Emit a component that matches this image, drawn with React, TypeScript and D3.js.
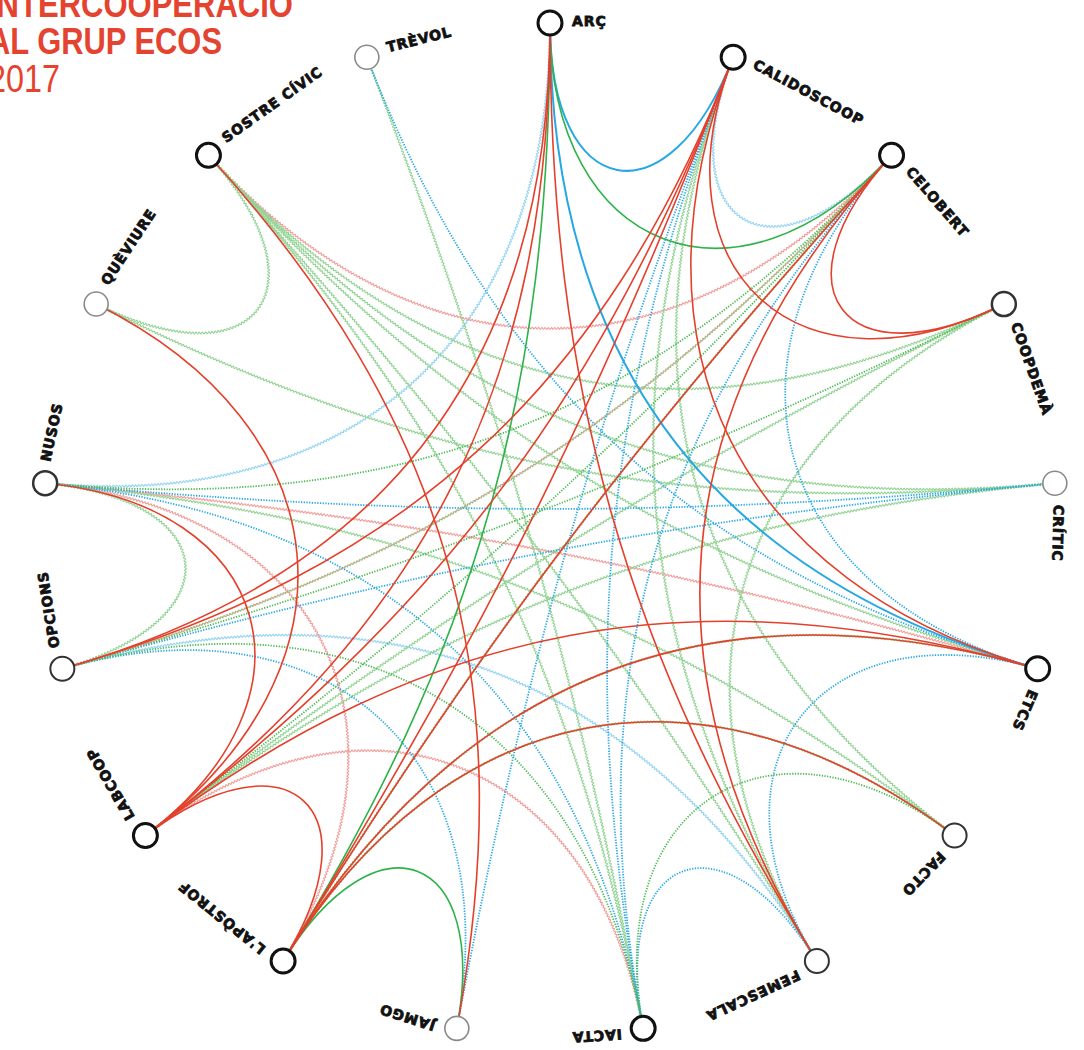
import { useEffect, useRef } from "react"
import * as d3 from "d3"

// nodes clockwise, starting at the top
const nodeNames = [
  "ARÇ", "CALIDOSCOOP", "CELOBERT", "COOPDEMÀ", "CRÍTIC", "ETCS", "FACTO", "FEMESCALA",
  "IACTA", "JAMGO", "L'APÒSTROF", "LABCOOP", "OPCIONS", "NUSOS", "QUÈVIURE", "SOSTRE CÍVIC", "TRÈVOL",
]
// ring strength: 3 strong, 2 medium, 1 weak
const nodeRing = [3, 3, 3, 2.5, 1, 3, 2, 2, 3, 1, 3, 3, 2, 2.5, 1, 3, 1]

const titleLines = ["INTERCOOPERACIÓ", "AL GRUP ECOS", "2017"]

// [from, to, kind] kind = colour (r/g/b) + stroke (s solid, d dotted, w weak)
const linksWeak: [string, string, string][] = [
  ["CALIDOSCOOP", "CELOBERT", "bw"],
  ["ARÇ", "NUSOS", "bw"],
  ["OPCIONS", "FEMESCALA", "bw"],
  ["SOSTRE CÍVIC", "CELOBERT", "rw"],
  ["NUSOS", "ETCS", "rw"],
  ["NUSOS", "L'APÒSTROF", "rw"],
  ["LABCOOP", "IACTA", "rw"],
  ["QUÈVIURE", "SOSTRE CÍVIC", "gw"],
  ["NUSOS", "OPCIONS", "gw"],
  ["TRÈVOL", "IACTA", "gw"],
  ["SOSTRE CÍVIC", "COOPDEMÀ", "gw"],
  ["SOSTRE CÍVIC", "CRÍTIC", "gw"],
  ["SOSTRE CÍVIC", "IACTA", "gw"],
  ["SOSTRE CÍVIC", "FEMESCALA", "gw"],
  ["SOSTRE CÍVIC", "ETCS", "gw"],
  ["COOPDEMÀ", "FEMESCALA", "gw"],
  ["COOPDEMÀ", "LABCOOP", "gw"],
  ["CRÍTIC", "QUÈVIURE", "gw"],
  ["CRÍTIC", "LABCOOP", "gw"],
  ["CALIDOSCOOP", "FEMESCALA", "gw"],
  ["CALIDOSCOOP", "FACTO", "gw"],
  ["FACTO", "L'APÒSTROF", "gw"],
  ["ETCS", "L'APÒSTROF", "gw"],
  ["NUSOS", "FACTO", "gw"],
  ["CELOBERT", "L'APÒSTROF", "gw"],
  ["CELOBERT", "OPCIONS", "gw"],
]

const linksDotted: [string, string, string][] = [
  ["CALIDOSCOOP", "JAMGO", "bd"],
  ["CALIDOSCOOP", "IACTA", "bd"],
  ["CELOBERT", "ETCS", "bd"],
  ["CELOBERT", "IACTA", "bd"],
  ["FEMESCALA", "ETCS", "bd"],
  ["IACTA", "FEMESCALA", "bd"],
  ["TRÈVOL", "ETCS", "bd"],
  ["NUSOS", "CRÍTIC", "bd"],
  ["NUSOS", "IACTA", "bd"],
  ["OPCIONS", "JAMGO", "bd"],
  ["OPCIONS", "CRÍTIC", "bd"],
  ["IACTA", "FACTO", "gd"],
  ["NUSOS", "CELOBERT", "gd"],
  ["OPCIONS", "COOPDEMÀ", "gd"],
  ["OPCIONS", "IACTA", "gd"],
  ["CELOBERT", "LABCOOP", "gd"],
  ["OPCIONS", "CELOBERT", "rd"],
]

const linksSolid: [string, string, string][] = [
  ["ARÇ", "CALIDOSCOOP", "bs"],
  ["ARÇ", "ETCS", "bs"],
  ["ARÇ", "CELOBERT", "gs"],
  ["ARÇ", "L'APÒSTROF", "gs"],
  ["L'APÒSTROF", "JAMGO", "gs"],
  ["ARÇ", "FEMESCALA", "rs"],
  ["ARÇ", "LABCOOP", "rs"],
  ["ARÇ", "OPCIONS", "rs"],
  ["CALIDOSCOOP", "COOPDEMÀ", "rs"],
  ["CALIDOSCOOP", "ETCS", "rs"],
  ["CALIDOSCOOP", "L'APÒSTROF", "rs"],
  ["CALIDOSCOOP", "LABCOOP", "rs"],
  ["CALIDOSCOOP", "OPCIONS", "rs"],
  ["CELOBERT", "COOPDEMÀ", "rs"],
  ["CELOBERT", "FEMESCALA", "rs"],
  ["CELOBERT", "L'APÒSTROF", "rs"],
  ["QUÈVIURE", "LABCOOP", "rs"],
  ["NUSOS", "LABCOOP", "rs"],
  ["LABCOOP", "L'APÒSTROF", "rs"],
  ["SOSTRE CÍVIC", "JAMGO", "rs"],
  ["FACTO", "L'APÒSTROF", "rs"],
  ["ETCS", "LABCOOP", "rs"],
  ["ETCS", "L'APÒSTROF", "rs"],
]

const colors: Record<string, string> = {
  rs: "#e4402c", gs: "#2fb24a", bs: "#27a8e2",
  rd: "#ef8b80", gd: "#4dbb55", bd: "#2aa8e6",
  rw: "#f09e9a", gw: "#92d394", bw: "#94d4f2",
}

const W = 1084
const H = 1050
const cx = 550
const cy = 530
const R = 507

export default function App() {
  const svgRef = useRef<SVGSVGElement>(null)

  useEffect(() => {
    const svg = d3.select(svgRef.current)
    svg.selectAll("*").remove()

    const n = nodeNames.length
    const angle = d3.scaleLinear().domain([0, n]).range([0, 2 * Math.PI])
    const pos = (i: number) => {
      const a = angle(i)
      return [cx + R * Math.sin(a), cy - R * Math.cos(a)]
    }
    const idx = (name: string) => nodeNames.indexOf(name)

    // cubic that leaves each node toward the centre; depth of the bend grows with distance
    const geom = (s: string, t: string) => {
      const i = idx(s), j = idx(t)
      const [x0, y0] = pos(i)
      const [x1, y1] = pos(j)
      const steps = Math.min(Math.abs(i - j), n - Math.abs(i - j))
      const h = (steps * Math.PI) / n
      const geo = R * (1 / Math.cos(h) - Math.tan(h))
      const depth = (steps === 1 ? 0.87 : 0.9) * geo
      const chordMid = R * Math.cos(h)
      const k = (4 - (4 * depth) / chordMid) / 3
      return {
        x0, y0, x1, y1,
        c1x: x0 + k * (cx - x0), c1y: y0 + k * (cy - y0),
        c2x: x1 + k * (cx - x1), c2y: y1 + k * (cy - y1),
      }
    }

    const curvePath = (s: string, t: string) => {
      const g = geom(s, t)
      const p = d3.path()
      p.moveTo(g.x0, g.y0)
      p.bezierCurveTo(g.c1x, g.c1y, g.c2x, g.c2y, g.x1, g.y1)
      return p.toString()
    }

    const wavy = d3.line<[number, number]>()
    const wavyPath = (s: string, t: string) => {
      const g = geom(s, t)
      const bez = (u: number) => {
        const v = 1 - u
        return [
          v * v * v * g.x0 + 3 * v * v * u * g.c1x + 3 * v * u * u * g.c2x + u * u * u * g.x1,
          v * v * v * g.y0 + 3 * v * v * u * g.c1y + 3 * v * u * u * g.c2y + u * u * u * g.y1,
        ]
      }
      const m = 1400
      const raw = d3.range(m + 1).map(k => bez(k / m))
      let acc = 0
      const pts: [number, number][] = raw.map((p, k) => {
        const q = raw[Math.min(k + 1, m)]
        const o = raw[Math.max(k - 1, 0)]
        if (k > 0) acc += Math.hypot(p[0] - raw[k - 1][0], p[1] - raw[k - 1][1])
        const dx = q[0] - o[0], dy = q[1] - o[1]
        const dl = Math.hypot(dx, dy) || 1
        const off = 0.9 * Math.sin((2 * Math.PI * acc) / 3.2)
        return [p[0] - (dy / dl) * off, p[1] + (dx / dl) * off]
      })
      return wavy(pts)
    }

    svg.append("g")
      .selectAll("path")
      .data(linksWeak)
      .join("path")
      .attr("d", d => wavyPath(d[0], d[1]))
      .attr("fill", "none")
      .attr("stroke", d => colors[d[2]])
      .attr("stroke-width", 1.1)

    svg.append("g")
      .selectAll("path")
      .data(linksDotted)
      .join("path")
      .attr("d", d => curvePath(d[0], d[1]))
      .attr("fill", "none")
      .attr("stroke", d => colors[d[2]])
      .attr("stroke-width", d => (d[2] === "rd" ? 1.4 : 1.8))
      .attr("stroke-dasharray", "1.3 1.4")

    svg.append("g")
      .selectAll("path")
      .data(linksSolid)
      .join("path")
      .attr("d", d => curvePath(d[0], d[1]))
      .attr("fill", "none")
      .attr("stroke", d => colors[d[2]])
      .attr("stroke-width", d => (d[2] === "bs" ? 2 : 1.6))

    const nodes = svg.append("g")
      .selectAll("g")
      .data(nodeNames)
      .join("g")

    nodes.append("circle")
      .attr("cx", (_, i) => pos(i)[0])
      .attr("cy", (_, i) => pos(i)[1])
      .attr("r", 12)
      .attr("fill", "#fff")
      .attr("stroke", (_, i) => (nodeRing[i] >= 3 ? "#111" : nodeRing[i] >= 2 ? "#333" : "#8a8a8a"))
      .attr("stroke-width", (_, i) => (nodeRing[i] >= 3 ? 3 : nodeRing[i] >= 2 ? nodeRing[i] : 1.6))

    nodes.append("text")
      .attr("transform", (_, i) => {
        const a = angle(i)
        const [x, y] = pos(i)
        const tx = x + 22 * Math.cos(a) + 2 * Math.sin(a)
        const ty = y + 22 * Math.sin(a) - 2 * Math.cos(a)
        return `translate(${tx},${ty}) rotate(${i === 0 ? 0 : (a * 180) / Math.PI + 7})`
      })
      .attr("dy", "0.36em")
      .attr("font-family", "'DejaVu Sans', sans-serif")
      .attr("font-weight", 700)
      .attr("font-size", 14)
      .attr("letter-spacing", 0.9)
      .attr("fill", "#111")
      .attr("stroke", "#111")
      .attr("stroke-width", 0.8)
      .text(d => d)

    const title = svg.append("g").attr("fill", "#e4432f")
    const titleWidths = [305, 234, 72]
    const titleY = [17, 54, 92]
    title.selectAll("text")
      .data(titleLines)
      .join("text")
      .attr("x", -12)
      .attr("y", (_, i) => titleY[i])
      .attr("font-family", "'Liberation Sans Narrow', 'Liberation Sans', Roboto, sans-serif")
      .attr("font-weight", (_, i) => (i < 2 ? 700 : 300))
      .attr("font-size", (_, i) => (i < 2 ? 36 : 39))
      .attr("textLength", (_, i) => titleWidths[i])
      .attr("lengthAdjust", "spacingAndGlyphs")
      .text(d => d)
  }, [])

  return (
    <div>
      <style>{"body{margin:0;background:#fff}"}</style>
      <svg ref={svgRef} width={W} height={H} style={{ display: "block" }} />
    </div>
  )
}
